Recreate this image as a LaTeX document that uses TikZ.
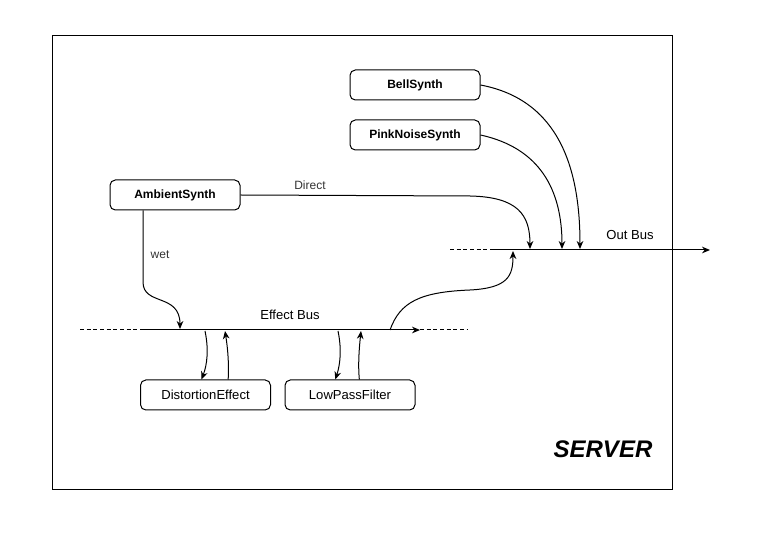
\documentclass[tikz,border=0pt]{standalone}
\usepackage{fontspec}
\setmainfont{Liberation Sans}
\usetikzlibrary{arrows.meta}
\begin{document}
\begin{tikzpicture}[x=0.75pt,y=-0.75pt,
  line width=0.75pt,
  box/.style={draw,rounded corners=4pt,minimum width=97.5pt,minimum height=22.5pt,inner sep=0pt,font=\fontsize{9.8}{11}\selectfont},
  bbox/.style={box,font=\fontsize{9}{11}\selectfont\bfseries},
  lbl/.style={font=\fontsize{9}{11}\selectfont,inner sep=1pt},
  buslbl/.style={font=\fontsize{9.8}{11}\selectfont,inner sep=1pt},
  arr/.style={-{Stealth[length=6pt,width=5pt]}},
  busdash/.style={dashed,dash pattern=on 3pt off 2pt}]
\useasboundingbox (0,0) rectangle (783,541);
\draw (52,36) rectangle (672,490);
\node[font=\fontsize{18}{20}\selectfont\bfseries\itshape] (server) at (603,449) {SERVER};

\node[bbox] (bell) at (415,85) {BellSynth};
\node[bbox] (pink) at (415,135) {PinkNoiseSynth};
\node[bbox] (amb) at (175,195) {AmbientSynth};
\node[box] (dist) at (205.5,395) {DistortionEffect};
\node[box] (lpf) at (350,395) {LowPassFilter};

% Out bus
\coordinate (ob0) at (450,250);
\coordinate (ob1) at (490,250);
\coordinate (ob2) at (710,250);
\draw[busdash] (ob0) -- (ob1);
\draw[arr] (ob1) -- (ob2);
\node[buslbl] (oblbl) at (630,235) {Out Bus};

% Effect bus
\coordinate (eb0) at (80,330);
\coordinate (eb1) at (140,330);
\coordinate (eb2) at (420,330);
\coordinate (eb3) at (468,330);
\draw[busdash] (eb0) -- (eb1);
\draw[arr] (eb1) -- (eb2);
\draw[busdash] (eb2) -- (eb3);
\node[buslbl] (eblbl) at (290,315) {Effect Bus};

% targets on buses
\coordinate (oDirect) at (530,249);
\coordinate (oEff) at (513,251);
\coordinate (oPink) at (562,249);
\coordinate (oBell) at (580,249);
\coordinate (eWet) at (180,329);
\coordinate (eOut) at (390,330);

% Direct
\draw[arr] (amb.east) -- (470,196) .. controls (518,197) and (530,215) .. (oDirect);
\node[lbl,text=black!80] (dlbl) at (310,185) {Direct};
% wet
\draw[arr] ([xshift=-24pt]amb.south) -- (143,282) .. controls (143,306) and (180,293) .. (eWet);
\node[lbl,text=black!80] (wlbl) at (160,255) {wet};
% effect bus to out bus
\draw[arr] (eOut) .. controls (400,302) and (420,292) .. (470,290) .. controls (508,288) and (513,276) .. (oEff);
% bell, pink
\draw[arr] (bell.east) .. controls (560,100) and (580,170) .. (oBell);
\draw[arr] (pink.east) .. controls (540,148) and (562,190) .. (oPink);
% effect loops
\coordinate (d0) at (205,331);
\coordinate (d1) at (225,331);
\coordinate (l0) at (338,331);
\coordinate (l1) at (361,331);
\draw[arr] (d0) .. controls (209,350) and (207,365) .. ([xshift=-3pt]dist.north);
\draw[arr] ([xshift=17pt]dist.north) .. controls (229,365) and (228,350) .. (d1);
\draw[arr] (l0) .. controls (342,350) and (340,365) .. ([xshift=-11pt]lpf.north);
\draw[arr] ([xshift=7pt]lpf.north) .. controls (358,365) and (359,350) .. (l1);
\end{tikzpicture}
\end{document}
